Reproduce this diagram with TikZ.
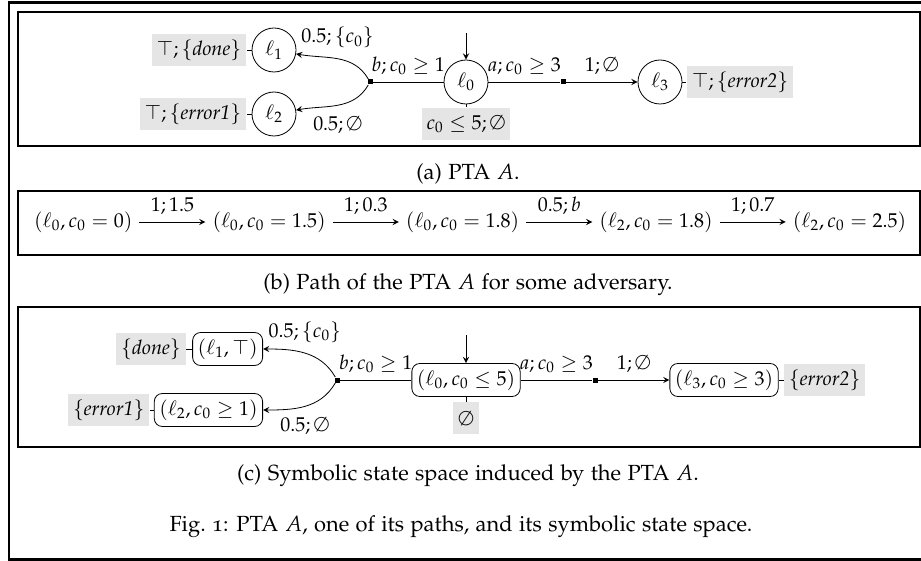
\documentclass[tikz,border=0pt]{standalone}
\usepackage[T1]{fontenc}
\usepackage[osf]{mathpazo}
\usetikzlibrary{positioning}
\tikzset{
  loc/.style={circle, draw, minimum size=22pt, inner sep=0pt},
  symb/.style={draw, rounded corners=4pt, minimum height=16.5pt, inner sep=2.5pt},
  inv/.style={fill=gray!20, inner sep=2.5pt, minimum height=16pt},
  branch/.style={rectangle, fill, minimum size=2.5pt, inner sep=0pt},
  panel/.style={line width=1pt},
  capt/.style={font=\fontsize{10.95}{13}\selectfont},
}
\begin{document}
\begin{tikzpicture}[x=0.5pt, y=-0.5pt, >=stealth]
  \useasboundingbox (0,0) rectangle (921,561);
  \draw[line width=1.4pt] (925,2.5) -- (9,2.5) -- (9,559.5) -- (925,559.5);
  % (a) the PTA
  \draw[panel] (18,12) rectangle (919.5,146);
  \node[loc] (l0) at (466,82) {$\ell_0$};
  \node[loc] (l1) at (274,50) {$\ell_1$};
  \node[loc] (l2) at (274,114) {$\ell_2$};
  \node[loc] (l3) at (660,82) {$\ell_3$};
  \node[branch] (bl) at (370,82) {};
  \node[branch] (br) at (563,82) {};
  \node[inv, below=1.5pt of l0] (i0) {$c_0 \le 5;\emptyset$};
  \node[inv, left=2.5pt of l1] (i1) {$\top;\{\mathit{done}\}$};
  \node[inv, left=2.5pt of l2] (i2) {$\top;\{\mathit{error1}\}$};
  \node[inv, right=2pt of l3] (i3) {$\top;\{\mathit{error2}\}$};
  \coordinate (s0) at (466,33);
  \draw[->] (s0) -- (l0);
  \draw (l0) -- (i0);
  \draw (l1) -- (i1);
  \draw (l2) -- (i2);
  \draw (l3) -- (i3);
  \draw (l0) -- node[above] {$b;c_0 \ge 1$} (bl);
  \draw[->] (bl) to[out=120, in=-10] node[above=2pt] {$0.5;\{c_0\}$} (l1);
  \draw[->] (bl) to[out=-120, in=10] node[below=2pt] {$0.5;\emptyset$} (l2);
  \draw (l0) -- node[above] {$a;c_0 \ge 3$} (br);
  \draw[->] (br) -- node[above] {$1;\emptyset$} (l3);
  \node[capt] (capa) at (468,174) {(a) PTA $A$.};
  % (b) a path
  \draw[panel] (18,191) rectangle (919.5,255);
  \node[anchor=west] (p0) at (27,222) {$(\ell_0, c_0 = 0)$};
  \node[right=33pt of p0] (p1) {$(\ell_0, c_0 = 1.5)$};
  \node[right=33pt of p1] (p2) {$(\ell_0, c_0 = 1.8)$};
  \node[right=33pt of p2] (p3) {$(\ell_2, c_0 = 1.8)$};
  \node[right=33pt of p3] (p4) {$(\ell_2, c_0 = 2.5)$};
  \draw[->] (p0) -- node[above] {$1;1.5$} (p1);
  \draw[->] (p1) -- node[above] {$1;0.3$} (p2);
  \draw[->] (p2) -- node[above] {$0.5;b$} (p3);
  \draw[->] (p3) -- node[above] {$1;0.7$} (p4);
  \node[capt] (capb) at (468,285) {(b) Path of the PTA $A$ for some adversary.};
  % (c) symbolic states
  \draw[panel] (18,307) rectangle (919.5,447);
  \node[symb] (z0) at (466,380) {$(\ell_0, c_0 \le 5)$};
  \node[symb, anchor=east] (z1) at (263,349) {$(\ell_1, \top)$};
  \node[symb, anchor=east] (z2) at (263,410) {$(\ell_2, c_0 \ge 1)$};
  \node[symb] (z3) at (724,380) {$(\ell_3, c_0 \ge 3)$};
  \node[branch] (cl) at (337,380) {};
  \node[branch] (cr) at (595,380) {};
  \node[inv, below=2.5pt of z0] (j0) {$\emptyset$};
  \node[inv, left=3pt of z1] (j1) {$\{\mathit{done}\}$};
  \node[inv, left=2pt of z2] (j2) {$\{\mathit{error1}\}$};
  \node[inv, right=2.5pt of z3] (j3) {$\{\mathit{error2}\}$};
  \coordinate (t0) at (466,335);
  \draw[->] (t0) -- (z0);
  \draw (z0) -- (j0);
  \draw (z1) -- (j1);
  \draw (z2) -- (j2);
  \draw (z3) -- (j3);
  \draw (z0) -- node[above] {$b;c_0 \ge 1$} (cl);
  \draw[->] (cl) to[out=120, in=0] node[above=2pt] {$0.5;\{c_0\}$} (z1);
  \draw[->] (cl) to[out=-120, in=0] node[below=2pt] {$0.5;\emptyset$} (z2);
  \draw (z0) -- node[above] {$a;c_0 \ge 3$} (cr);
  \draw[->] (cr) -- node[above] {$1;\emptyset$} (z3);
  \node[capt] (capc) at (468,476) {(c) Symbolic state space induced by the PTA $A$.};
  \node[capt] (capfig) at (461,527) {Fig.~1: PTA $A$, one of its paths, and its symbolic state space.};
\end{tikzpicture}
\end{document}
